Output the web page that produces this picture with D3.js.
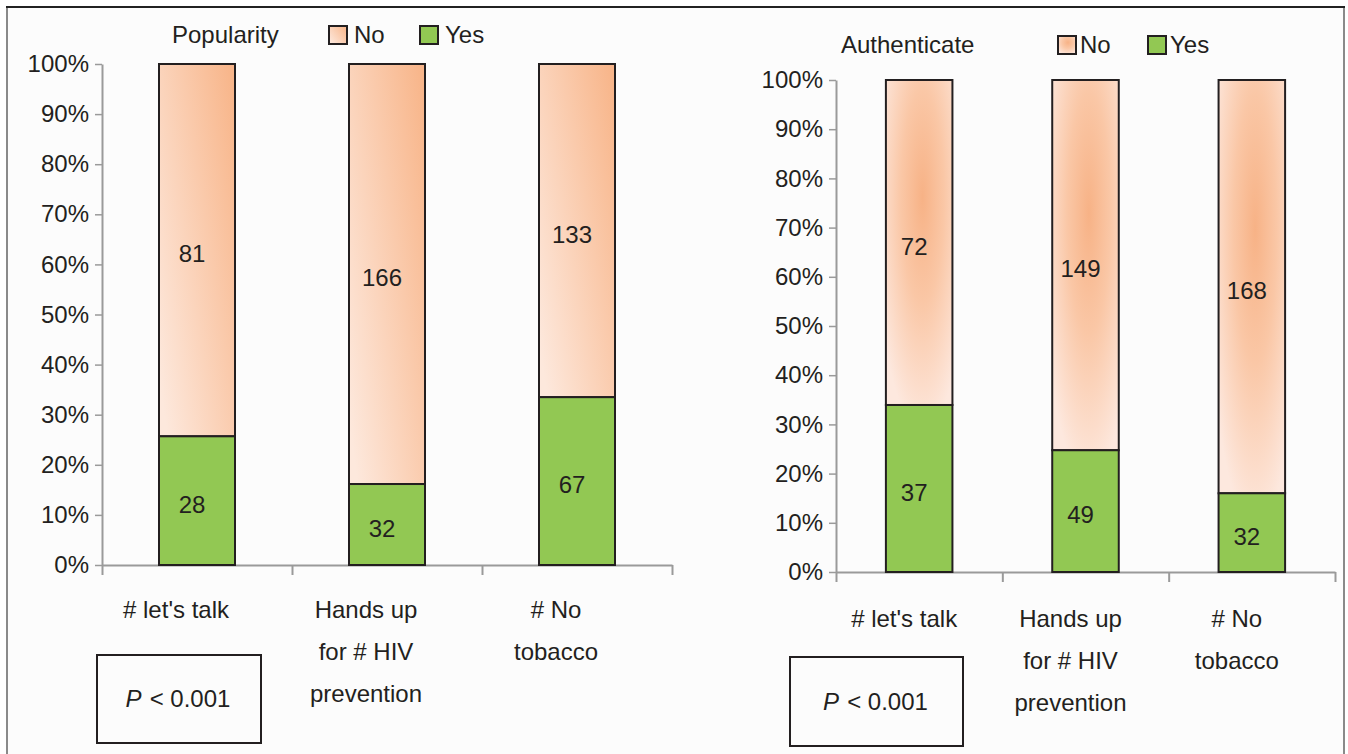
<!DOCTYPE html>
<html>
<head>
<meta charset="utf-8">
<script src="https://cdn.jsdelivr.net/npm/d3@7"></script>
<style>
  html, body { margin: 0; padding: 0; background: #ffffff; }
  svg { display: block; }
  text { font-family: "Liberation Sans", Arial, sans-serif; fill: #231f20; }
</style>
</head>
<body>
<svg id="chart" width="1348" height="754"></svg>
<script>
// Campaign names and their wrapped label lines
const categories = ["# let's talk", "Hands up for # HIV prevention", "# No tobacco"];
const categoryLines = [["# let's talk"], ["Hands up", "for # HIV", "prevention"], ["# No", "tobacco"]];

// Counts of "Yes" / "No" answers
const popularityYes = [28, 32, 67];
const popularityNo = [81, 166, 133];
const authenticateYes = [37, 49, 32];
const authenticateNo = [72, 149, 168];

// Axis ticks
const yTicks = [0, 0.1, 0.2, 0.3, 0.4, 0.5, 0.6, 0.7, 0.8, 0.9, 1.0];
const legendItems = ["No", "Yes"];
const pValueText = "< 0.001";

const GREEN = "#92c853";
const FS = 24;
const svg = d3.select("#chart");
const defs = svg.append("defs");

// Left panel: diagonal peach gradient
const lin = defs.append("linearGradient").attr("id", "peachLinear")
  .attr("x1", 0).attr("y1", 0.85).attr("x2", 1).attr("y2", 0.1);
lin.append("stop").attr("offset", "0%").attr("stop-color", "#fde8dc");
lin.append("stop").attr("offset", "100%").attr("stop-color", "#f8b68b");

// Right panel: radial peach glow
const rad = defs.append("radialGradient").attr("id", "peachRadial")
  .attr("cx", 0.55).attr("cy", 0.36).attr("r", 0.72).attr("fx", 0.55).attr("fy", 0.36);
rad.append("stop").attr("offset", "0%").attr("stop-color", "#f7b286");
rad.append("stop").attr("offset", "45%").attr("stop-color", "#fac7a6");
rad.append("stop").attr("offset", "100%").attr("stop-color", "#fde8de");

// Page frame
svg.append("rect").attr("x", 7).attr("y", 7).attr("width", 1337).attr("height", 760)
  .attr("fill", "#fcfcfc").attr("stroke", "none");
svg.append("line").attr("x1", 7).attr("x2", 7).attr("y1", 7).attr("y2", 754)
  .attr("stroke", "#8a8a8a").attr("stroke-width", 2);
svg.append("line").attr("x1", 1344).attr("x2", 1344).attr("y1", 7).attr("y2", 754)
  .attr("stroke", "#8a8a8a").attr("stroke-width", 2);
svg.append("line").attr("x1", 6).attr("x2", 1345).attr("y1", 7).attr("y2", 7)
  .attr("stroke", "#222").attr("stroke-width", 2);

function drawPanel(cfg) {
  const g = svg.append("g");
  const totals = cfg.yes.map((v, i) => v + cfg.no[i]);
  const rows = categories.map((c, i) => ({
    cat: c, lines: categoryLines[i], yes: cfg.yes[i], no: cfg.no[i],
    yesShare: cfg.yes[i] / totals[i]
  }));

  const x = d3.scaleBand().domain(categories).range([cfg.x0, cfg.x1])
    .paddingInner(0.6).paddingOuter(0.3);
  const y = d3.scaleLinear().domain([0, 1]).range([cfg.yBottom, cfg.yTop]);
  const xBound = d3.scaleLinear().domain([0, categories.length]).range([cfg.x0, cfg.x1]);

  // Y axis
  const yAxis = g.append("g").attr("transform", `translate(${cfg.x0},0)`)
    .call(d3.axisLeft(y).tickValues(yTicks).tickFormat(d3.format(".0%")).tickSize(7).tickSizeOuter(0));
  yAxis.select(".domain").attr("stroke", "#9a9a9a").attr("stroke-width", 2);
  yAxis.selectAll(".tick line").attr("stroke", "#9a9a9a").attr("stroke-width", 1.5);
  yAxis.selectAll(".tick text").attr("x", -13).attr("font-size", FS)
    .style("font-family", "'Liberation Sans', Arial, sans-serif").attr("fill", "#231f20");

  // X axis with boundary ticks
  const xAxis = g.append("g").attr("transform", `translate(0,${cfg.yBottom})`)
    .call(d3.axisBottom(xBound).tickValues(d3.range(categories.length + 1)).tickFormat("").tickSize(10).tickSizeOuter(0));
  xAxis.select(".domain").attr("stroke", "#9a9a9a").attr("stroke-width", 2);
  xAxis.selectAll(".tick line").attr("stroke", "#9a9a9a").attr("stroke-width", 2);

  // Stacked bars
  const bars = g.selectAll("g.bar").data(rows).join("g").attr("class", "bar");
  bars.append("rect")
    .attr("x", d => x(d.cat)).attr("width", x.bandwidth())
    .attr("y", y(1)).attr("height", d => y(d.yesShare) - y(1))
    .attr("fill", cfg.fill).attr("stroke", "#231f20").attr("stroke-width", 2);
  bars.append("rect")
    .attr("x", d => x(d.cat)).attr("width", x.bandwidth())
    .attr("y", d => y(d.yesShare)).attr("height", d => y(0) - y(d.yesShare))
    .attr("fill", GREEN).attr("stroke", "#231f20").attr("stroke-width", 2);

  // Value labels at segment centres
  bars.append("text")
    .attr("x", d => x(d.cat) + x.bandwidth() / 2 - 5)
    .attr("y", d => (y(1) + y(d.yesShare)) / 2 + 6)
    .attr("text-anchor", "middle").attr("dominant-baseline", "middle").attr("font-size", FS)
    .text(d => d.no);
  bars.append("text")
    .attr("x", d => x(d.cat) + x.bandwidth() / 2 - 5)
    .attr("y", d => (y(d.yesShare) + y(0)) / 2 + 6)
    .attr("text-anchor", "middle").attr("dominant-baseline", "middle").attr("font-size", FS)
    .text(d => d.yes);

  // Category labels
  bars.append("text")
    .attr("text-anchor", "middle").attr("font-size", FS)
    .each(function (d) {
      const t = d3.select(this);
      d.lines.forEach((ln, k) => {
        t.append("tspan")
          .attr("x", x(d.cat) + x.bandwidth() / 2 + cfg.catShift)
          .attr("y", cfg.catY + k * 42)
          .text(ln);
      });
    });

  // Legend
  g.append("text").attr("x", cfg.legend.titleX).attr("y", cfg.legend.y + 17)
    .attr("font-size", FS).text(cfg.title);
  legendItems.forEach((name, i) => {
    const lx = cfg.legend.swatchX[i];
    g.append("rect").attr("x", lx).attr("y", cfg.legend.y).attr("width", 18).attr("height", 18)
      .attr("fill", name === "Yes" ? GREEN : cfg.fill)
      .attr("stroke", "#231f20").attr("stroke-width", 2);
    g.append("text").attr("x", lx + cfg.legend.textGap).attr("y", cfg.legend.y + 17)
      .attr("font-size", FS).text(name);
  });

  // P-value box
  const b = cfg.pbox;
  g.append("rect").attr("x", b.x).attr("y", b.y).attr("width", b.w).attr("height", b.h)
    .attr("fill", "none").attr("stroke", "#231f20").attr("stroke-width", 2);
  const pt = g.append("text").attr("x", b.x + b.w / 2 - 1).attr("y", b.y + b.h / 2 + 8)
    .attr("text-anchor", "middle").attr("font-size", FS);
  pt.append("tspan").attr("font-style", "italic").text("P");
  pt.append("tspan").attr("dx", 8).text(pValueText);
}

drawPanel({
  title: "Popularity", yes: popularityYes, no: popularityNo, fill: "url(#peachLinear)",
  x0: 102, x1: 672, yTop: 64, yBottom: 565, catY: 618, catShift: -21,
  legend: { titleX: 172, y: 26, swatchX: [329, 420], textGap: 25 },
  pbox: { x: 97, y: 655, w: 164, h: 88 }
});

drawPanel({
  title: "Authenticate", yes: authenticateYes, no: authenticateNo, fill: "url(#peachRadial)",
  x0: 836, x1: 1335, yTop: 80, yBottom: 572, catY: 627, catShift: -15,
  legend: { titleX: 841, y: 36, swatchX: [1058, 1148], textGap: 22 },
  pbox: { x: 790, y: 657, w: 173, h: 89 }
});
</script>
</body>
</html>
